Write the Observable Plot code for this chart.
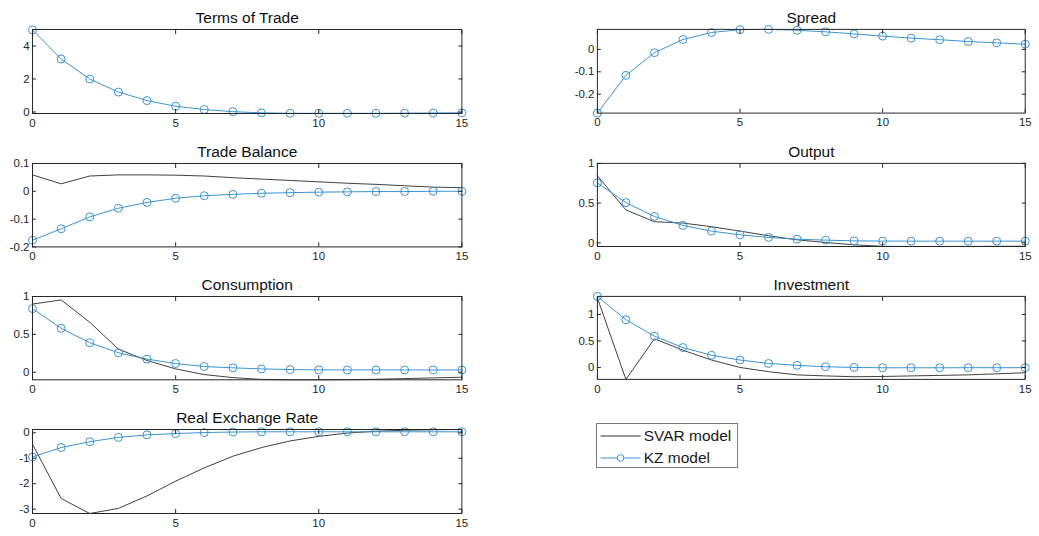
<!DOCTYPE html>
<html>
<head>
<meta charset="utf-8">
<script src="https://cdn.jsdelivr.net/npm/d3@7"></script>
<script src="https://cdn.jsdelivr.net/npm/@observablehq/plot@0.6"></script>
<style>
  html, body { margin: 0; padding: 0; background: #fff; }
  #root { position: relative; width: 1039px; height: 536px; overflow: hidden; font-family: 'Liberation Sans', Arial, sans-serif; }
  .panel { position: absolute; }
  .legend { position: absolute; border: 1px solid #7a7a7a; background: #fff; box-sizing: border-box; }
  .legend .row { position: absolute; left: 0; height: 20px; display: flex; align-items: center; font-size: 15.5px; color: #1a1a1a; }
  .legend svg { display: block; }
</style>
</head>
<body>
<div id="root"></div>
<script>
// ---- data ----
const horizons = [0, 1, 2, 3, 4, 5, 6, 7, 8, 9, 10, 11, 12, 13, 14, 15];
const seriesNames = ["SVAR model", "KZ model"];
const titles = ["Terms of Trade", "Spread", "Trade Balance", "Output", "Consumption", "Investment", "Real Exchange Rate"];

const totKZ = [4.98, 3.21, 2.00, 1.21, 0.69, 0.35, 0.15, 0.02, -0.05, -0.08, -0.08, -0.08, -0.08, -0.07, -0.06, -0.05];

const spreadKZ = [-0.284, -0.116, -0.015, 0.044, 0.075, 0.088, 0.089, 0.085, 0.078, 0.069, 0.059, 0.050, 0.043, 0.035, 0.029, 0.023];

const tbSVAR = [0.059, 0.027, 0.055, 0.059, 0.059, 0.058, 0.055, 0.049, 0.044, 0.039, 0.034, 0.029, 0.025, 0.020, 0.015, 0.013];
const tbKZ = [-0.176, -0.135, -0.092, -0.061, -0.040, -0.025, -0.016, -0.011, -0.007, -0.005, -0.003, -0.002, -0.001, -0.001, 0.000, 0.000];

const outSVAR = [0.844, 0.414, 0.266, 0.249, 0.203, 0.148, 0.089, 0.038, 0.004, -0.025, -0.044, -0.046, -0.046, -0.045, -0.044, -0.043];
const outKZ = [0.755, 0.506, 0.333, 0.219, 0.148, 0.101, 0.068, 0.046, 0.034, 0.025, 0.022, 0.021, 0.021, 0.021, 0.021, 0.021];

const consSVAR = [0.90, 0.955, 0.66, 0.305, 0.155, 0.044, -0.031, -0.071, -0.095, -0.100, -0.100, -0.098, -0.093, -0.084, -0.075, -0.066];
const consKZ = [0.84, 0.58, 0.39, 0.257, 0.173, 0.115, 0.075, 0.058, 0.044, 0.035, 0.031, 0.030, 0.030, 0.030, 0.030, 0.030];

const invSVAR = [1.31, -0.225, 0.54, 0.325, 0.14, 0.0, -0.08, -0.14, -0.16, -0.175, -0.17, -0.16, -0.15, -0.14, -0.12, -0.10];
const invKZ = [1.34, 0.90, 0.59, 0.375, 0.23, 0.14, 0.075, 0.04, 0.013, 0.0, -0.006, -0.006, -0.006, -0.005, -0.005, -0.004];

const rerSVAR = [-0.45, -2.58, -3.17, -2.97, -2.48, -1.90, -1.38, -0.92, -0.58, -0.32, -0.14, -0.01, 0.06, 0.10, 0.12, 0.13];
const rerKZ = [-0.95, -0.58, -0.35, -0.18, -0.08, -0.03, 0.01, 0.03, 0.04, 0.04, 0.04, 0.04, 0.04, 0.04, 0.04, 0.04];

const xTicks = [0, 5, 10, 15];
const yTicksList = [[0, 2, 4], [-0.2, -0.1, 0], [-0.2, -0.1, 0, 0.1], [0, 0.5, 1], [0, 0.5, 1], [0, 0.5, 1], [-3, -2, -1, 0]];
const yDomains = [[-0.09, 5], [-0.284, 0.089], [-0.2, 0.1], [-0.046, 1], [-0.1, 1], [-0.225, 1.34], [-3.17, 0.13]];
const kzSeries = [totKZ, spreadKZ, tbKZ, outKZ, consKZ, invKZ, rerKZ];
const svarSeries = [null, null, tbSVAR, outSVAR, consSVAR, invSVAR, rerSVAR];

// ---- layout ----
const BLUE = "#3b93d3";
const DARK = "#2b2b2b";
const AX = "#262626";
const colX = [32.3, 597.3];
const rowBox = [[29, 113], [163.3, 246.7], [296, 379.3], [429.3, 513.3]];
const plotW = 429.4;
const ML = 32, MR = 14, MT = 30, MB = 24;

const root = document.getElementById("root");
const fmt = d => String(d);

titles.forEach((title, i) => {
  const col = i % 2, row = Math.floor(i / 2);
  const [top, bottom] = rowBox[row];
  const h = bottom - top;
  const rows = horizons.map((t, k) => ({t, kz: kzSeries[i][k], svar: svarSeries[i] ? svarSeries[i][k] : null}));
  const marks = [];
  if (svarSeries[i]) marks.push(Plot.line(rows, {x: "t", y: "svar", stroke: DARK, strokeWidth: 0.9}));
  marks.push(Plot.line(rows, {x: "t", y: "kz", stroke: BLUE, strokeWidth: 1}));
  marks.push(Plot.dot(rows, {x: "t", y: "kz", r: 4, stroke: BLUE, fill: "none", strokeWidth: 1}));
  marks.push(Plot.frame({stroke: AX, strokeWidth: 1}));
  marks.push(Plot.axisX({ticks: xTicks, tickSize: -4, tickPadding: 9, tickFormat: fmt, label: null, stroke: AX}));
  marks.push(Plot.axisX({anchor: "top", ticks: xTicks, tickSize: -4, tickFormat: () => "", label: null, stroke: AX}));
  marks.push(Plot.axisY({ticks: yTicksList[i], tickSize: -4, tickPadding: 7, tickFormat: fmt, label: null, stroke: AX}));
  marks.push(Plot.axisY({anchor: "right", ticks: yTicksList[i], tickSize: -4, tickFormat: () => "", label: null, stroke: AX}));
  marks.push(Plot.text([title], {frameAnchor: "top", dy: -6.3, lineAnchor: "bottom", text: d => d, fontSize: 15.5, fill: "#111"}));
  const chart = Plot.plot({
    width: ML + plotW + MR,
    height: MT + h + MB,
    marginLeft: ML, marginRight: MR, marginTop: MT, marginBottom: MB,
    x: {domain: [0, 15]},
    y: {domain: yDomains[i]},
    style: {fontFamily: "'Liberation Sans', Arial, sans-serif", fontSize: "11.5px", color: AX, background: "transparent", overflow: "visible"},
    marks
  });
  const wrap = document.createElement("div");
  wrap.className = "panel";
  wrap.style.left = (colX[col] - ML) + "px";
  wrap.style.top = (top - MT) + "px";
  wrap.appendChild(chart);
  root.appendChild(wrap);
});

// ---- legend ----
const leg = document.createElement("div");
leg.className = "legend";
leg.style.left = "595.7px";
leg.style.top = "423.3px";
leg.style.width = "142.6px";
leg.style.height = "45px";
const ns = "http://www.w3.org/2000/svg";
seriesNames.forEach((name, k) => {
  const r = document.createElement("div");
  r.className = "row";
  r.style.top = (k === 0 ? 1.4 : 24) + "px";
  const s = document.createElementNS(ns, "svg");
  s.setAttribute("width", "46"); s.setAttribute("height", "20");
  const ln = document.createElementNS(ns, "line");
  ln.setAttribute("x1", "3.6"); ln.setAttribute("x2", "43.6");
  ln.setAttribute("y1", "10"); ln.setAttribute("y2", "10");
  ln.setAttribute("stroke", k === 0 ? DARK : BLUE);
  ln.setAttribute("stroke-width", "1");
  s.appendChild(ln);
  if (k === 1) {
    const c = document.createElementNS(ns, "circle");
    c.setAttribute("cx", "23.6"); c.setAttribute("cy", "10"); c.setAttribute("r", "3.3");
    c.setAttribute("fill", "#fff"); c.setAttribute("stroke", BLUE);
    s.appendChild(c);
  }
  r.appendChild(s);
  const tx = document.createElement("span");
  tx.textContent = name;
  tx.style.marginLeft = "1px";
  r.appendChild(tx);
  leg.appendChild(r);
});
root.appendChild(leg);
</script>
</body>
</html>
